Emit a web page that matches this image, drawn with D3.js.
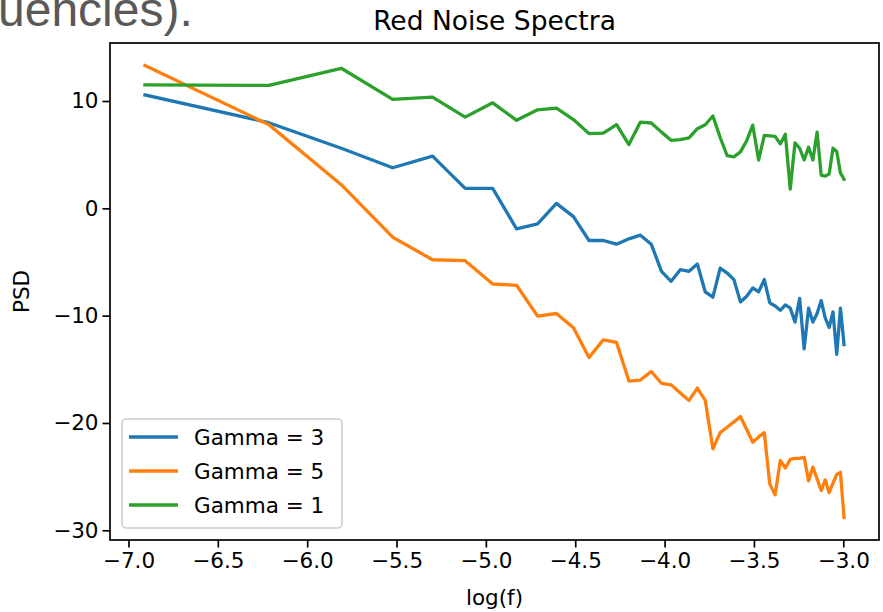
<!DOCTYPE html>
<html>
<head>
<meta charset="utf-8">
<script src="https://cdn.jsdelivr.net/npm/d3@7"></script>
<style>
  body { margin: 0; background: #fff; }
  text { font-family: "DejaVu Sans", sans-serif; }
</style>
</head>
<body>
<div id="chart"></div>
<script>
// log(f) for f = 1/1000 ... 50/1000
const logF = [
  -6.9078, -6.2146, -5.8091, -5.5215, -5.2983, -5.1160, -4.9618, -4.8283, -4.7105, -4.6052,
  -4.5099, -4.4228, -4.3428, -4.2687, -4.1997, -4.1352, -4.0745, -4.0174, -3.9633, -3.9120,
  -3.8632, -3.8167, -3.7723, -3.7297, -3.6889, -3.6497, -3.6119, -3.5756, -3.5405, -3.5066,
  -3.4738, -3.4420, -3.4112, -3.3814, -3.3524, -3.3242, -3.2968, -3.2702, -3.2442, -3.2189,
  -3.1942, -3.1701, -3.1466, -3.1236, -3.1011, -3.0791, -3.0576, -3.0366, -3.0159, -2.9957
];

const psdGamma3 = [
  10.57, 7.98, 5.6, 3.78, 4.86, 1.86, 1.86, -1.91, -1.45, 0.46,
  -0.77, -3.0, -3.0, -3.34, -2.84, -2.5, -3.34, -5.87, -6.8, -5.72,
  -5.87, -5.19, -7.79, -8.28, -5.57, -6.03, -6.64, -8.72, -8.19, -7.42,
  -7.79, -6.64, -8.81, -9.1, -9.5, -9.0, -9.3, -10.6, -8.4, -13.1,
  -9.3, -10.6, -9.8, -8.6, -10.2, -11.1, -9.65, -13.6, -9.3, -12.7
];

const psdGamma5 = [
  13.3, 7.8, 2.2, -2.69, -4.79, -4.88, -7.05, -7.17, -10.05, -9.8,
  -11.13, -13.9, -12.25, -12.5, -16.1, -16.0, -15.2, -16.3, -16.45, -17.2,
  -17.9, -16.75, -17.9, -22.4, -20.9, -20.4, -19.9, -19.4, -20.6, -21.8,
  -21.3, -20.9, -25.7, -26.7, -23.5, -24.2, -23.4, -23.3, -23.3, -23.2,
  -25.4, -24.1, -25.2, -26.3, -25.3, -26.5, -25.6, -24.8, -24.6, -28.8
];

const psdGamma1 = [
  11.5, 11.45, 13.05, 10.15, 10.36, 8.5, 9.83, 8.2, 9.18, 9.34,
  8.27, 6.96, 7.0, 7.8, 5.94, 8.04, 7.95, 7.1, 6.34, 6.4,
  6.56, 7.42, 7.79, 8.6, 6.6, 4.9, 4.8, 5.26, 6.3, 7.75,
  4.5, 6.8, 6.75, 6.7, 6.0, 6.9, 1.8, 6.1, 5.6, 4.5,
  5.7, 4.5, 7.1, 3.1, 3.0, 3.2, 5.6, 5.3, 3.3, 2.7
];

const seriesNames = ["Gamma = 3", "Gamma = 5", "Gamma = 1"];
const seriesColors = ["#1f77b4", "#ff7f0e", "#2ca02c"];
const xTicks = [-7.0, -6.5, -6.0, -5.5, -5.0, -4.5, -4.0, -3.5, -3.0];
const yTicks = [-30, -20, -10, 0, 10];

const W = 883, H = 612;
const margin = { top: 43, right: 4, bottom: 72, left: 110 };
const width  = W - margin.left - margin.right;
const height = H - margin.top  - margin.bottom;

const svg = d3.select("#chart")
  .append("svg")
  .attr("width", W)
  .attr("height", H);

// cropped slide text behind the figure
svg.append("text")
  .attr("x", -2)
  .attr("y", 26)
  .style("font-family", "'Liberation Sans', Arial, sans-serif")
  .style("font-size", "48px")
  .attr("fill", "#595959")
  .text("uencies).");

const g = svg.append("g")
  .attr("transform", `translate(${margin.left},${margin.top})`);

const series = [psdGamma3, psdGamma5, psdGamma1].map((vals, i) => ({
  name: seriesNames[i],
  color: seriesColors[i],
  points: vals.map((v, j) => ({ x: logF[j], y: v }))
}));

// matplotlib-like 5% margins
const xExt = d3.extent(logF);
const allY = [].concat(psdGamma3, psdGamma5, psdGamma1);
const yExt = d3.extent(allY);
const xPad = (xExt[1] - xExt[0]) * 0.05;
const yPad = (yExt[1] - yExt[0]) * 0.05;

const x = d3.scaleLinear()
  .domain([xExt[0] - xPad, xExt[1] + xPad])
  .range([0, width]);

const y = d3.scaleLinear()
  .domain([yExt[0] - yPad, yExt[1] + yPad])
  .range([height, 0]);

// lines
const line = d3.line()
  .x(d => x(d.x))
  .y(d => y(d.y));

g.selectAll(".series")
  .data(series)
  .enter()
  .append("path")
    .attr("class", "series")
    .attr("fill", "none")
    .attr("stroke", d => d.color)
    .attr("stroke-width", 3.3)
    .attr("stroke-linejoin", "round")
    .attr("stroke-linecap", "square")
    .attr("d", d => line(d.points));

// axes
const xAxis = g.append("g")
  .attr("transform", `translate(0,${height})`)
  .call(d3.axisBottom(x).tickValues(xTicks).tickFormat(d3.format(".1f"))
    .tickSize(7.5).tickPadding(5));

const yAxis = g.append("g")
  .call(d3.axisLeft(y).tickValues(yTicks).tickFormat(d3.format("d"))
    .tickSize(7.5).tickPadding(4));

[xAxis, yAxis].forEach(ax => {
  ax.select(".domain").remove();
  ax.selectAll(".tick line").attr("stroke", "#000").attr("stroke-width", 1.7);
  ax.selectAll(".tick text")
    .attr("fill", "#000")
    .style("font-family", "'DejaVu Sans', sans-serif")
    .style("font-size", "21.5px");
});

// frame
g.append("rect")
  .attr("x", 0)
  .attr("y", 0)
  .attr("width", width)
  .attr("height", height)
  .attr("fill", "none")
  .attr("stroke", "#000")
  .attr("stroke-width", 1.7);

// title and axis labels
svg.append("text")
  .attr("x", margin.left + width / 2)
  .attr("y", margin.top - 13)
  .attr("text-anchor", "middle")
  .style("font-size", "26.5px")
  .text("Red Noise Spectra");

svg.append("text")
  .attr("x", margin.left + width / 2)
  .attr("y", H - 7)
  .attr("text-anchor", "middle")
  .style("font-size", "21.5px")
  .text("log(f)");

svg.append("text")
  .attr("transform", "rotate(-90)")
  .attr("x", -(margin.top + height / 2))
  .attr("y", 29)
  .attr("text-anchor", "middle")
  .style("font-size", "21.5px")
  .text("PSD");

// legend (lower left)
const legend = g.append("g")
  .attr("transform", `translate(12,${height - 121})`);

legend.append("rect")
  .attr("width", 220)
  .attr("height", 109)
  .attr("rx", 4)
  .attr("fill", "#fff")
  .attr("fill-opacity", 0.8)
  .attr("stroke", "#ccc")
  .attr("stroke-width", 1.5);

const rows = legend.selectAll(".row")
  .data(series)
  .enter()
  .append("g")
    .attr("class", "row")
    .attr("transform", (d, i) => `translate(0,${18 + i * 34})`);

rows.append("line")
  .attr("x1", 7)
  .attr("x2", 56)
  .attr("stroke", d => d.color)
  .attr("stroke-width", 3.3);

rows.append("text")
  .attr("x", 72)
  .attr("dy", "0.35em")
  .style("font-size", "21.5px")
  .attr("fill", "#000")
  .text(d => d.name);
</script>
</body>
</html>
